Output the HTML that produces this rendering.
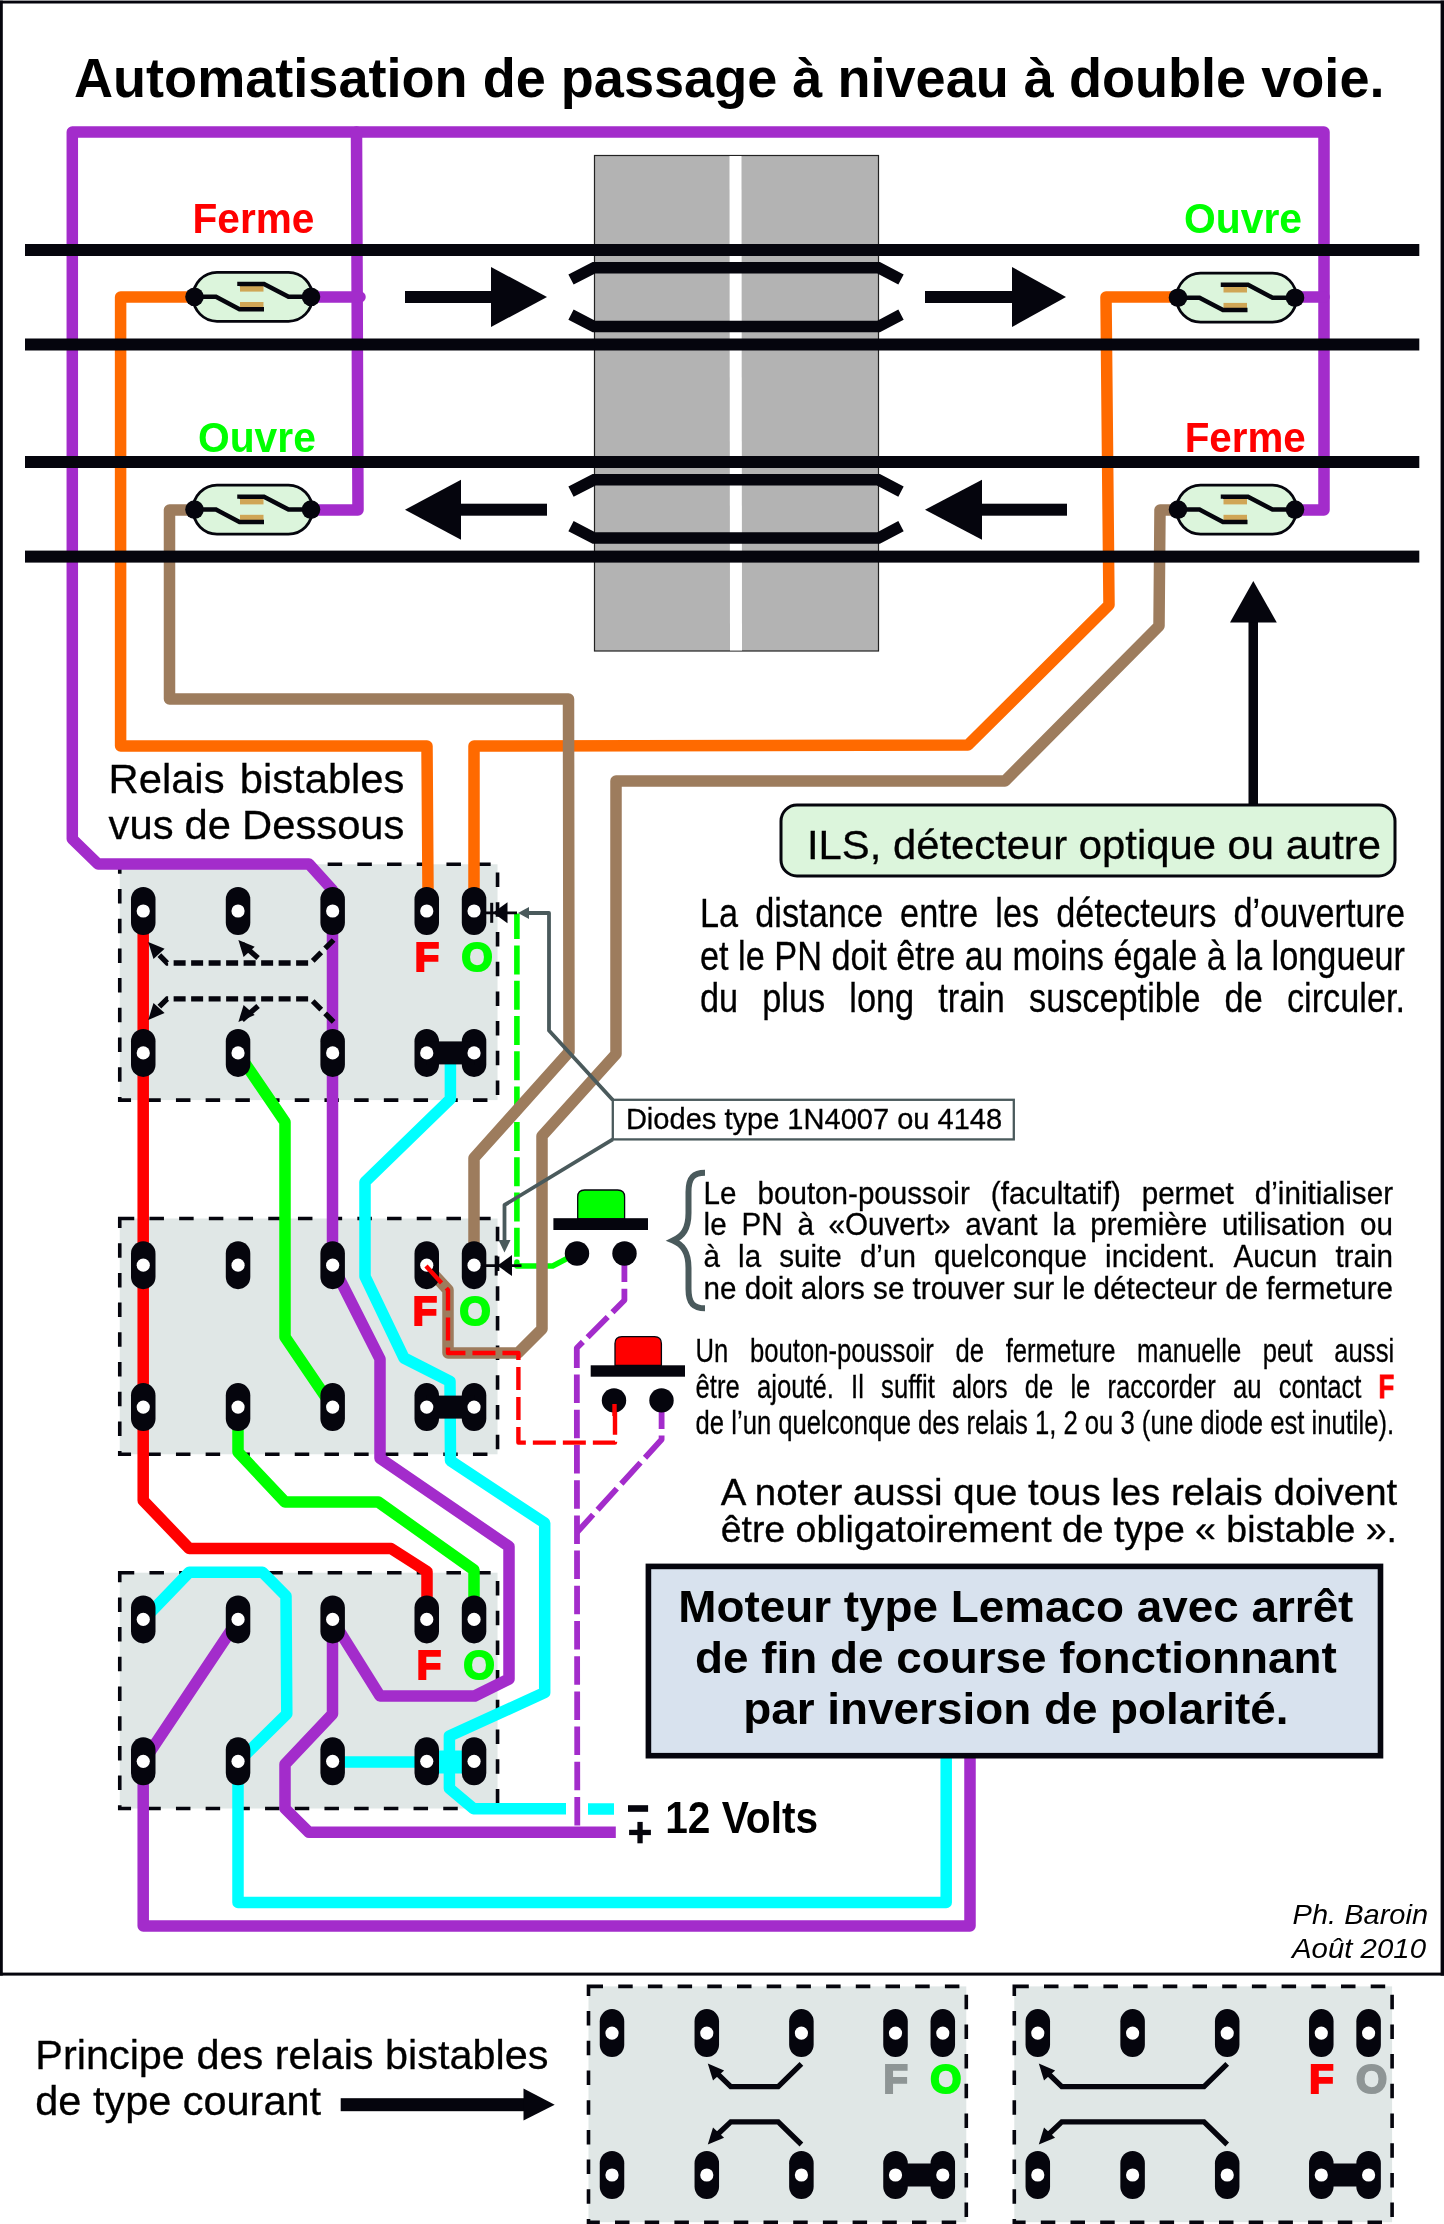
<!DOCTYPE html><html><head><meta charset="utf-8"><style>html,body{margin:0;padding:0;background:#fff;}svg{display:block;font-family:"Liberation Sans",sans-serif;will-change:transform;}</style></head><body>
<svg width="1444" height="2224" viewBox="0 0 1444 2224">
<rect x="0" y="0" width="1444" height="2224" fill="#fff"/>
<rect x="0" y="0.6" width="1444" height="2.9" fill="#05050d"/>
<rect x="0" y="0.6" width="2.8" height="1975" fill="#05050d"/>
<rect x="1440.6" y="0.6" width="3.4" height="1975" fill="#05050d"/>
<rect x="0" y="1972.6" width="1444" height="3" fill="#05050d"/>
<text x="74.0" y="97.4" font-size="55" font-weight="bold" fill="#000" textLength="1310.5" lengthAdjust="spacingAndGlyphs">Automatisation de passage à niveau à double voie.</text>
<rect x="594.5" y="155.5" width="284" height="495.5" fill="#b3b3b3" stroke="#222" stroke-width="1.2"/>
<polygon points="729.5,156 741.5,156 742,650.5 730,650.5" fill="#fff"/>
<rect x="119.75" y="864.3" width="377.8" height="235.8" fill="#e0e7e6" stroke="#05050d" stroke-width="3.6" stroke-dasharray="14.5 15.2"/>
<rect x="119.75" y="1218.5" width="377.8" height="235.8" fill="#e0e7e6" stroke="#05050d" stroke-width="3.6" stroke-dasharray="14.5 15.2"/>
<rect x="119.75" y="1572.7" width="377.8" height="235.8" fill="#e0e7e6" stroke="#05050d" stroke-width="3.6" stroke-dasharray="14.5 15.2"/>
<polyline points="332.5,890.0 309.0,864.0 98.0,864.0 72.3,839.0 72.3,132.0 1324.0,132.0 1324.0,510.0 1300.0,510.0" fill="none" stroke="#a32ccb" stroke-width="11.5" stroke-linejoin="round" stroke-linecap="round" />
<polyline points="356.5,132.0 358.0,510.0 315.0,510.0" fill="none" stroke="#a32ccb" stroke-width="11.5" stroke-linejoin="round" stroke-linecap="round" />
<polyline points="315.0,297.0 360.0,297.0" fill="none" stroke="#a32ccb" stroke-width="11.5" stroke-linejoin="round" stroke-linecap="round" />
<polyline points="1300.0,297.0 1324.0,297.0" fill="none" stroke="#a32ccb" stroke-width="11.5" stroke-linejoin="round" stroke-linecap="round" />
<polyline points="516.9,913.5 516.9,1266.0" fill="none" stroke="#00ff00" stroke-width="5.6" stroke-dasharray="25.6 6.3 29 6.3 29 6.3 29 6.3 29 6.3 29 6.3 29 6.3 29 6.3 29 6.3 29 6.3 29 6.3" />
<polyline points="516.9,1262.0 516.9,1266.0 552.7,1266.0 576.6,1253.5" fill="none" stroke="#00ff00" stroke-width="5.4" stroke-linejoin="round" stroke-linecap="round" />
<polyline points="190.0,297.0 120.6,297.0 120.6,746.0 427.0,746.0 428.0,890.0" fill="none" stroke="#ff6a00" stroke-width="11.5" stroke-linejoin="round" stroke-linecap="round" />
<polyline points="1175.0,297.0 1106.0,297.0 1109.0,605.0 968.0,745.0 474.0,746.0 474.0,890.0" fill="none" stroke="#ff6a00" stroke-width="11.5" stroke-linejoin="round" stroke-linecap="round" />
<polyline points="190.0,510.0 169.5,510.0 169.5,699.0 568.5,699.0 569.0,1052.0 474.0,1158.0 474.0,1245.0" fill="none" stroke="#9d7c5d" stroke-width="11.5" stroke-linejoin="round" stroke-linecap="round" />
<polyline points="1175.0,510.0 1160.0,510.0 1159.0,626.0 1005.0,781.0 616.0,781.0 616.0,1054.0 542.0,1136.0 542.0,1329.0 518.0,1353.0 448.0,1353.0 448.0,1290.0 426.0,1266.0" fill="none" stroke="#9d7c5d" stroke-width="11.5" stroke-linejoin="round" stroke-linecap="round" />
<rect x="25" y="244" width="1394.3" height="12" fill="#05050d"/>
<rect x="25" y="338.5" width="1394.3" height="12" fill="#05050d"/>
<rect x="25" y="456" width="1394.3" height="12" fill="#05050d"/>
<rect x="25" y="550.6" width="1394.3" height="12" fill="#05050d"/>
<polyline points="571.0,279.5 594.0,267.7 878.5,267.7 901.0,279.5" fill="none" stroke="#05050d" stroke-width="11.5" stroke-linejoin="miter" stroke-linecap="butt" />
<polyline points="571.0,314.7 594.0,326.5 878.5,326.5 901.0,314.7" fill="none" stroke="#05050d" stroke-width="11.5" stroke-linejoin="miter" stroke-linecap="butt" />
<polyline points="571.0,491.6 594.0,479.8 878.5,479.8 901.0,491.6" fill="none" stroke="#05050d" stroke-width="11.5" stroke-linejoin="miter" stroke-linecap="butt" />
<polyline points="571.0,526.2 594.0,538.0 878.5,538.0 901.0,526.2" fill="none" stroke="#05050d" stroke-width="11.5" stroke-linejoin="miter" stroke-linecap="butt" />
<rect x="405" y="291" width="87" height="12" fill="#05050d"/>
<polygon points="491.0,267.0 547.0,297.0 491.0,327.0" fill="#05050d"/>
<rect x="925" y="291" width="88" height="12" fill="#05050d"/>
<polygon points="1012.0,267.0 1066.0,297.0 1012.0,327.0" fill="#05050d"/>
<rect x="460" y="503.7" width="87" height="12" fill="#05050d"/>
<polygon points="461.0,479.7 405.0,509.7 461.0,539.7" fill="#05050d"/>
<rect x="981" y="503.7" width="86" height="12" fill="#05050d"/>
<polygon points="982.0,479.7 925.0,509.7 982.0,539.7" fill="#05050d"/>
<rect x="193.0" y="272.3" width="119.5" height="49" rx="24" ry="24.5" fill="#dcf5dc" stroke="#05050d" stroke-width="2.8"/>
<rect x="240.0" y="302.0" width="23.5" height="5.6" fill="#d0a656"/>
<rect x="240.0" y="286.0" width="23.5" height="5.6" fill="#d0a656"/>
<polyline points="194.5,296.8 216.0,296.8 239.5,309.2 264.0,309.2" fill="none" stroke="#05050d" stroke-width="4.5"/>
<polyline points="311.0,296.8 288.5,296.8 264.0,283.9 239.5,283.9 239.5,286.0" fill="none" stroke="#05050d" stroke-width="4.5"/>
<circle cx="194.5" cy="296.8" r="9.3" fill="#05050d"/>
<circle cx="311" cy="296.8" r="9.3" fill="#05050d"/>
<rect x="193.0" y="485.1" width="119.5" height="49" rx="24" ry="24.5" fill="#dcf5dc" stroke="#05050d" stroke-width="2.8"/>
<rect x="240.0" y="514.8" width="23.5" height="5.6" fill="#d0a656"/>
<rect x="240.0" y="498.8" width="23.5" height="5.6" fill="#d0a656"/>
<polyline points="194.5,509.6 216.0,509.6 239.5,522.0 264.0,522.0" fill="none" stroke="#05050d" stroke-width="4.5"/>
<polyline points="311.0,509.6 288.5,509.6 264.0,496.7 239.5,496.7 239.5,498.8" fill="none" stroke="#05050d" stroke-width="4.5"/>
<circle cx="194.5" cy="509.6" r="9.3" fill="#05050d"/>
<circle cx="311" cy="509.6" r="9.3" fill="#05050d"/>
<rect x="1176.5" y="273.2" width="120.0" height="49" rx="24" ry="24.5" fill="#dcf5dc" stroke="#05050d" stroke-width="2.8"/>
<rect x="1223.5" y="302.9" width="23.5" height="5.6" fill="#d0a656"/>
<rect x="1223.5" y="286.9" width="23.5" height="5.6" fill="#d0a656"/>
<polyline points="1178.0,297.7 1199.5,297.7 1223.0,310.1 1247.5,310.1" fill="none" stroke="#05050d" stroke-width="4.5"/>
<polyline points="1295.0,297.7 1272.5,297.7 1248.0,284.8 1223.0,284.8 1223.0,286.9" fill="none" stroke="#05050d" stroke-width="4.5"/>
<circle cx="1178" cy="297.7" r="9.3" fill="#05050d"/>
<circle cx="1295" cy="297.7" r="9.3" fill="#05050d"/>
<rect x="1176.5" y="485.1" width="120.0" height="49" rx="24" ry="24.5" fill="#dcf5dc" stroke="#05050d" stroke-width="2.8"/>
<rect x="1223.5" y="514.8" width="23.5" height="5.6" fill="#d0a656"/>
<rect x="1223.5" y="498.8" width="23.5" height="5.6" fill="#d0a656"/>
<polyline points="1178.0,509.6 1199.5,509.6 1223.0,522.0 1247.5,522.0" fill="none" stroke="#05050d" stroke-width="4.5"/>
<polyline points="1295.0,509.6 1272.5,509.6 1248.0,496.7 1223.0,496.7 1223.0,498.8" fill="none" stroke="#05050d" stroke-width="4.5"/>
<circle cx="1178" cy="509.6" r="9.3" fill="#05050d"/>
<circle cx="1295" cy="509.6" r="9.3" fill="#05050d"/>
<text x="192.5" y="232.6" font-size="43" font-weight="bold" fill="#ff0000" textLength="121.9" lengthAdjust="spacingAndGlyphs">Ferme</text>
<text x="198.0" y="451.5" font-size="43" font-weight="bold" fill="#00ff00" textLength="117.8" lengthAdjust="spacingAndGlyphs">Ouvre</text>
<text x="1184.0" y="232.6" font-size="43" font-weight="bold" fill="#00ff00" textLength="118.0" lengthAdjust="spacingAndGlyphs">Ouvre</text>
<text x="1184.7" y="451.5" font-size="43" font-weight="bold" fill="#ff0000" textLength="121.1" lengthAdjust="spacingAndGlyphs">Ferme</text>
<rect x="1248.5" y="620" width="9.5" height="184" fill="#05050d"/>
<polygon points="1230,622.4 1253.3,581 1276.8,622.4" fill="#05050d"/>
<rect x="781" y="805" width="614" height="71" rx="16" ry="16" fill="#dcf5dc" stroke="#05050d" stroke-width="3"/>
<text x="807.0" y="859.0" font-size="41.5"  fill="#000" stroke="#000" stroke-width="0.3" textLength="574.0" lengthAdjust="spacingAndGlyphs">ILS, détecteur optique ou autre</text>
<text x="108.6" y="792.7" font-size="40.5"  fill="#000" stroke="#000" stroke-width="0.3" textLength="115.9" lengthAdjust="spacingAndGlyphs">Relais</text>
<text x="239.8" y="792.7" font-size="40.5"  fill="#000" stroke="#000" stroke-width="0.3" textLength="164.6" lengthAdjust="spacingAndGlyphs">bistables</text>
<text x="108.6" y="839.2" font-size="40.5"  fill="#000" stroke="#000" stroke-width="0.3" textLength="64.9" lengthAdjust="spacingAndGlyphs">vus</text>
<text x="184.6" y="839.2" font-size="40.5"  fill="#000" stroke="#000" stroke-width="0.3" textLength="46.4" lengthAdjust="spacingAndGlyphs">de</text>
<text x="242.1" y="839.2" font-size="40.5"  fill="#000" stroke="#000" stroke-width="0.3" textLength="162.3" lengthAdjust="spacingAndGlyphs">Dessous</text>
<g stroke="#000" stroke-width="0.45">
<text x="700.0" y="927.1" font-size="41.5"  fill="#000" stroke="#000" stroke-width="0.3" textLength="38.1" lengthAdjust="spacingAndGlyphs">La</text>
<text x="755.3" y="927.1" font-size="41.5"  fill="#000" stroke="#000" stroke-width="0.3" textLength="127.7" lengthAdjust="spacingAndGlyphs">distance</text>
<text x="900.1" y="927.1" font-size="41.5"  fill="#000" stroke="#000" stroke-width="0.3" textLength="78.1" lengthAdjust="spacingAndGlyphs">entre</text>
<text x="995.3" y="927.1" font-size="41.5"  fill="#000" stroke="#000" stroke-width="0.3" textLength="43.8" lengthAdjust="spacingAndGlyphs">les</text>
<text x="1056.3" y="927.1" font-size="41.5"  fill="#000" stroke="#000" stroke-width="0.3" textLength="160.1" lengthAdjust="spacingAndGlyphs">détecteurs</text>
<text x="1233.5" y="927.1" font-size="41.5"  fill="#000" stroke="#000" stroke-width="0.3" textLength="171.5" lengthAdjust="spacingAndGlyphs">d’ouverture</text>
<text x="700.0" y="969.8" font-size="41.5"  fill="#000" stroke="#000" stroke-width="0.3" textLength="705.0" lengthAdjust="spacingAndGlyphs">et le PN doit être au moins égale à la longueur</text>
<text x="700.0" y="1011.6" font-size="41.5"  fill="#000" stroke="#000" stroke-width="0.3" textLength="38.1" lengthAdjust="spacingAndGlyphs">du</text>
<text x="762.3" y="1011.6" font-size="41.5"  fill="#000" stroke="#000" stroke-width="0.3" textLength="62.9" lengthAdjust="spacingAndGlyphs">plus</text>
<text x="849.3" y="1011.6" font-size="41.5"  fill="#000" stroke="#000" stroke-width="0.3" textLength="64.8" lengthAdjust="spacingAndGlyphs">long</text>
<text x="938.2" y="1011.6" font-size="41.5"  fill="#000" stroke="#000" stroke-width="0.3" textLength="66.7" lengthAdjust="spacingAndGlyphs">train</text>
<text x="1029.0" y="1011.6" font-size="41.5"  fill="#000" stroke="#000" stroke-width="0.3" textLength="171.5" lengthAdjust="spacingAndGlyphs">susceptible</text>
<text x="1224.6" y="1011.6" font-size="41.5"  fill="#000" stroke="#000" stroke-width="0.3" textLength="38.1" lengthAdjust="spacingAndGlyphs">de</text>
<text x="1286.9" y="1011.6" font-size="41.5"  fill="#000" stroke="#000" stroke-width="0.3" textLength="118.1" lengthAdjust="spacingAndGlyphs">circuler.</text>
</g>
<polyline points="143.2,911.0 143.2,1500.5 189.2,1548.5 391.0,1548.5 427.0,1571.5 427.0,1620.0" fill="none" stroke="#ff0000" stroke-width="11.5" stroke-linejoin="round" stroke-linecap="round" />
<polyline points="238.0,1053.0 285.0,1122.0 285.0,1337.0 332.5,1407.0" fill="none" stroke="#00ff00" stroke-width="11.5" stroke-linejoin="round" stroke-linecap="round" />
<polyline points="238.0,1407.0 238.0,1452.0 285.0,1502.0 378.3,1502.0 474.0,1570.0 474.0,1620.0" fill="none" stroke="#00ff00" stroke-width="11.5" stroke-linejoin="round" stroke-linecap="round" />
<polyline points="332.5,911.0 332.5,1265.0 380.0,1359.0 380.0,1458.3 509.0,1546.5 509.0,1679.0 474.7,1696.0 380.0,1696.0 332.5,1620.0" fill="none" stroke="#a32ccb" stroke-width="11.5" stroke-linejoin="round" stroke-linecap="round" />
<polyline points="450.4,1053.0 450.4,1099.0 365.0,1182.0 365.0,1276.5 404.0,1358.0 450.0,1381.3 450.5,1460.8 544.7,1523.0 544.7,1692.6 449.4,1736.0 449.4,1788.4 473.5,1808.7 566.0,1808.7" fill="none" stroke="#00ffff" stroke-width="11.5" stroke-linejoin="round" stroke-linecap="butt" />
<line x1="588" y1="1809" x2="614" y2="1809" stroke="#00ffff" stroke-width="11.5"/>
<polyline points="143.2,1620.0 189.2,1572.2 262.5,1572.2 286.0,1596.0 286.8,1714.0 238.0,1762.0" fill="none" stroke="#00ffff" stroke-width="11.5" stroke-linejoin="round" stroke-linecap="round" />
<polyline points="238.0,1620.0 143.2,1762.0 143.2,1926.0 970.0,1926.0 970.0,1757.0" fill="none" stroke="#a32ccb" stroke-width="11.5" stroke-linejoin="round" stroke-linecap="round" />
<polyline points="238.0,1762.0 238.0,1902.5 946.2,1902.5 946.2,1757.0" fill="none" stroke="#00ffff" stroke-width="11.5" stroke-linejoin="round" stroke-linecap="round" />
<polyline points="332.5,1620.0 332.5,1714.0 285.0,1764.3 285.0,1808.5 309.0,1832.3 615.8,1832.3" fill="none" stroke="#a32ccb" stroke-width="11.5" stroke-linejoin="round" stroke-linecap="butt" />
<polyline points="332.5,1762.0 449.0,1762.0" fill="none" stroke="#00ffff" stroke-width="11.5" stroke-linejoin="round" stroke-linecap="round" />
<rect x="426.8" y="1750.5" width="47.3" height="23" fill="#00ffff"/>
<polyline points="624.4,1253.5 624.4,1300.3 576.8,1348.0 577.3,1832.0" fill="none" stroke="#a32ccb" stroke-width="5.8" stroke-dasharray="28.5 6.7" stroke-linejoin="round"/>
<polyline points="661.6,1400.4 661.6,1439.5 577.3,1532.0" fill="none" stroke="#a32ccb" stroke-width="5.8" stroke-dasharray="28.5 6.7" stroke-linejoin="round"/>
<rect x="131.00" y="887.00" width="24.5" height="48" rx="12.25" ry="12.25" fill="#05050d"/>
<rect x="225.80" y="887.00" width="24.5" height="48" rx="12.25" ry="12.25" fill="#05050d"/>
<rect x="320.40" y="887.00" width="24.5" height="48" rx="12.25" ry="12.25" fill="#05050d"/>
<rect x="414.50" y="887.00" width="24.5" height="48" rx="12.25" ry="12.25" fill="#05050d"/>
<rect x="461.80" y="887.00" width="24.5" height="48" rx="12.25" ry="12.25" fill="#05050d"/>
<rect x="131.00" y="1028.90" width="24.5" height="48" rx="12.25" ry="12.25" fill="#05050d"/>
<rect x="225.80" y="1028.90" width="24.5" height="48" rx="12.25" ry="12.25" fill="#05050d"/>
<rect x="320.40" y="1028.90" width="24.5" height="48" rx="12.25" ry="12.25" fill="#05050d"/>
<rect x="414.50" y="1028.90" width="24.5" height="48" rx="12.25" ry="12.25" fill="#05050d"/>
<rect x="461.80" y="1028.90" width="24.5" height="48" rx="12.25" ry="12.25" fill="#05050d"/>
<rect x="426.75" y="1041.3999999999999" width="47.30000000000001" height="23" fill="#05050d"/>
<rect x="131.00" y="1241.20" width="24.5" height="48" rx="12.25" ry="12.25" fill="#05050d"/>
<rect x="225.80" y="1241.20" width="24.5" height="48" rx="12.25" ry="12.25" fill="#05050d"/>
<rect x="320.40" y="1241.20" width="24.5" height="48" rx="12.25" ry="12.25" fill="#05050d"/>
<rect x="414.50" y="1241.20" width="24.5" height="48" rx="12.25" ry="12.25" fill="#05050d"/>
<rect x="461.80" y="1241.20" width="24.5" height="48" rx="12.25" ry="12.25" fill="#05050d"/>
<rect x="131.00" y="1383.10" width="24.5" height="48" rx="12.25" ry="12.25" fill="#05050d"/>
<rect x="225.80" y="1383.10" width="24.5" height="48" rx="12.25" ry="12.25" fill="#05050d"/>
<rect x="320.40" y="1383.10" width="24.5" height="48" rx="12.25" ry="12.25" fill="#05050d"/>
<rect x="414.50" y="1383.10" width="24.5" height="48" rx="12.25" ry="12.25" fill="#05050d"/>
<rect x="461.80" y="1383.10" width="24.5" height="48" rx="12.25" ry="12.25" fill="#05050d"/>
<rect x="426.75" y="1395.6" width="47.30000000000001" height="23" fill="#05050d"/>
<rect x="131.00" y="1595.40" width="24.5" height="48" rx="12.25" ry="12.25" fill="#05050d"/>
<rect x="225.80" y="1595.40" width="24.5" height="48" rx="12.25" ry="12.25" fill="#05050d"/>
<rect x="320.40" y="1595.40" width="24.5" height="48" rx="12.25" ry="12.25" fill="#05050d"/>
<rect x="414.50" y="1595.40" width="24.5" height="48" rx="12.25" ry="12.25" fill="#05050d"/>
<rect x="461.80" y="1595.40" width="24.5" height="48" rx="12.25" ry="12.25" fill="#05050d"/>
<rect x="131.00" y="1737.30" width="24.5" height="48" rx="12.25" ry="12.25" fill="#05050d"/>
<rect x="225.80" y="1737.30" width="24.5" height="48" rx="12.25" ry="12.25" fill="#05050d"/>
<rect x="320.40" y="1737.30" width="24.5" height="48" rx="12.25" ry="12.25" fill="#05050d"/>
<rect x="414.50" y="1737.30" width="24.5" height="48" rx="12.25" ry="12.25" fill="#05050d"/>
<rect x="461.80" y="1737.30" width="24.5" height="48" rx="12.25" ry="12.25" fill="#05050d"/>
<polyline points="333.6,940.0 310.6,963.0 167.2,963.0 153.2,949.0" fill="none" stroke="#05050d" stroke-width="5.3" stroke-dasharray="12 5.5"/>
<polyline points="333.6,1021.9 310.6,998.9 167.2,998.9 153.2,1012.9" fill="none" stroke="#05050d" stroke-width="5.3" stroke-dasharray="12 5.5"/>
<polygon points="148.2,942.0 153.5,958.9 164.6,948.8" fill="#05050d"/>
<polygon points="148.2,1019.9 164.6,1013.1 153.5,1003.0" fill="#05050d"/>
<line x1="258.05" y1="958.0" x2="242.05" y2="944.0" stroke="#05050d" stroke-width="5.3"/>
<line x1="258.05" y1="1005.8999999999999" x2="242.05" y2="1019.8999999999999" stroke="#05050d" stroke-width="5.3"/>
<polygon points="238.4,940.0 243.6,956.9 254.7,946.8" fill="#05050d"/>
<polygon points="238.4,1021.9 254.7,1015.1 243.6,1005.0" fill="#05050d"/>
<circle cx="143.25" cy="911.00" r="6.6" fill="#fff"/>
<circle cx="238.05" cy="911.00" r="6.6" fill="#fff"/>
<circle cx="332.65" cy="911.00" r="6.6" fill="#fff"/>
<circle cx="426.75" cy="911.00" r="6.6" fill="#fff"/>
<circle cx="474.05" cy="911.00" r="6.6" fill="#fff"/>
<circle cx="143.25" cy="1052.90" r="6.6" fill="#fff"/>
<circle cx="238.05" cy="1052.90" r="6.6" fill="#fff"/>
<circle cx="332.65" cy="1052.90" r="6.6" fill="#fff"/>
<circle cx="426.75" cy="1052.90" r="6.6" fill="#fff"/>
<circle cx="474.05" cy="1052.90" r="6.6" fill="#fff"/>
<circle cx="143.25" cy="1265.20" r="6.6" fill="#fff"/>
<circle cx="238.05" cy="1265.20" r="6.6" fill="#fff"/>
<circle cx="332.65" cy="1265.20" r="6.6" fill="#fff"/>
<circle cx="426.75" cy="1265.20" r="6.6" fill="#fff"/>
<circle cx="474.05" cy="1265.20" r="6.6" fill="#fff"/>
<circle cx="143.25" cy="1407.10" r="6.6" fill="#fff"/>
<circle cx="238.05" cy="1407.10" r="6.6" fill="#fff"/>
<circle cx="332.65" cy="1407.10" r="6.6" fill="#fff"/>
<circle cx="426.75" cy="1407.10" r="6.6" fill="#fff"/>
<circle cx="474.05" cy="1407.10" r="6.6" fill="#fff"/>
<circle cx="143.25" cy="1619.40" r="6.6" fill="#fff"/>
<circle cx="238.05" cy="1619.40" r="6.6" fill="#fff"/>
<circle cx="332.65" cy="1619.40" r="6.6" fill="#fff"/>
<circle cx="426.75" cy="1619.40" r="6.6" fill="#fff"/>
<circle cx="474.05" cy="1619.40" r="6.6" fill="#fff"/>
<circle cx="143.25" cy="1761.30" r="6.6" fill="#fff"/>
<circle cx="238.05" cy="1761.30" r="6.6" fill="#fff"/>
<circle cx="332.65" cy="1761.30" r="6.6" fill="#fff"/>
<circle cx="426.75" cy="1761.30" r="6.6" fill="#fff"/>
<circle cx="474.05" cy="1761.30" r="6.6" fill="#fff"/>
<text x="414.8" y="971.0" font-size="40" font-weight="bold" fill="#ff0000" stroke="#ff0000" stroke-width="2.2" stroke-linejoin="miter">F</text>
<text x="461.4" y="971.0" font-size="40" font-weight="bold" fill="#00ff00" stroke="#00ff00" stroke-width="2.2">O</text>
<text x="412.8" y="1325.2" font-size="40" font-weight="bold" fill="#ff0000" stroke="#ff0000" stroke-width="2.2" stroke-linejoin="miter">F</text>
<text x="459.4" y="1325.2" font-size="40" font-weight="bold" fill="#00ff00" stroke="#00ff00" stroke-width="2.2">O</text>
<text x="416.8" y="1679.4" font-size="40" font-weight="bold" fill="#ff0000" stroke="#ff0000" stroke-width="2.2" stroke-linejoin="miter">F</text>
<text x="463.4" y="1679.4" font-size="40" font-weight="bold" fill="#00ff00" stroke="#00ff00" stroke-width="2.2">O</text>
<polyline points="426.0,1266.0 448.0,1290.0 448.0,1353.0 518.4,1353.0 518.4,1442.6 615.0,1442.6 615.0,1404.0" fill="none" stroke="#ff0000" stroke-width="4.4" stroke-dasharray="23 7" stroke-linejoin="round"/>
<line x1="484" y1="912.8" x2="517" y2="912.8" stroke="#05050d" stroke-width="2.8"/>
<rect x="490.2" y="902.8" width="3" height="20" fill="#05050d"/>
<polygon points="493.0,912.8 507.5,902.3 507.5,923.3" fill="#05050d"/>
<line x1="484" y1="1265.6" x2="521.5" y2="1265.6" stroke="#05050d" stroke-width="2.8"/>
<rect x="494.7" y="1255.6" width="3" height="20" fill="#05050d"/>
<polygon points="497.5,1265.6 512.0,1255.1 512.0,1276.1" fill="#05050d"/>
<polyline points="525.0,913.0 549.0,913.0 549.0,1030.5 612.8,1100.0" fill="none" stroke="#4a5a5c" stroke-width="3.8" stroke-linejoin="round"/>
<polygon points="518,913 529,907 529,919" fill="#4a5a5c"/>
<rect x="612.8" y="1099.8" width="401" height="39.6" fill="#fff" stroke="#4a5a5c" stroke-width="2.3"/>
<polyline points="612.8,1139.4 504.5,1205.0 504.5,1244.0" fill="none" stroke="#4a5a5c" stroke-width="3.8" stroke-linejoin="round"/>
<polygon points="498.5,1240 510.5,1240 504.5,1252.6" fill="#4a5a5c"/>
<text x="625.9" y="1129.4" font-size="28.8"  fill="#000" stroke="#000" stroke-width="0.3" textLength="376.3" lengthAdjust="spacingAndGlyphs">Diodes type 1N4007 ou 4148</text>
<path d="M577.7,1218.8 V1197 Q577.7,1190 584.7,1190 H617.6 Q624.6,1190 624.6,1197 V1218.8 Z" fill="#00ff00" stroke="#05050d" stroke-width="1.3"/>
<rect x="553.4" y="1218.2" width="94.6" height="11.8" fill="#05050d"/>
<circle cx="577" cy="1253.5" r="12.2" fill="#05050d"/><circle cx="624.5" cy="1253.5" r="12.2" fill="#05050d"/>
<path d="M615,1365.3 V1343.6 Q615,1336.6 622,1336.6 H654.4 Q661.4,1336.6 661.4,1343.6 V1365.3 Z" fill="#ff0000" stroke="#05050d" stroke-width="1.3"/>
<rect x="590.7" y="1365.3" width="94.3" height="11.4" fill="#05050d"/>
<circle cx="614" cy="1400.4" r="12.2" fill="#05050d"/><circle cx="661.5" cy="1400.4" r="12.2" fill="#05050d"/>
<line x1="614.5" y1="1404" x2="614.5" y2="1416" stroke="#ff0000" stroke-width="4.4"/>
<path d="M705,1172.7 C694,1172.7 688.5,1177 688.5,1192 L688.5,1213 C688.5,1229 683,1236 673,1240.6 C683,1245 688.5,1252 688.5,1268 L688.5,1289 C688.5,1304 694,1308.3 705,1308.3" fill="none" stroke="#4a5a5c" stroke-width="6" stroke-linejoin="miter" stroke-miterlimit="12"/>
<g stroke="#000" stroke-width="0.4">
<text x="703.6" y="1203.7" font-size="32"  fill="#000" stroke="#000" stroke-width="0.3" textLength="32.9" lengthAdjust="spacingAndGlyphs">Le</text>
<text x="757.5" y="1203.7" font-size="32"  fill="#000" stroke="#000" stroke-width="0.3" textLength="212.3" lengthAdjust="spacingAndGlyphs">bouton-poussoir</text>
<text x="990.8" y="1203.7" font-size="32"  fill="#000" stroke="#000" stroke-width="0.3" textLength="130.0" lengthAdjust="spacingAndGlyphs">(facultatif)</text>
<text x="1141.7" y="1203.7" font-size="32"  fill="#000" stroke="#000" stroke-width="0.3" textLength="92.1" lengthAdjust="spacingAndGlyphs">permet</text>
<text x="1254.8" y="1203.7" font-size="32"  fill="#000" stroke="#000" stroke-width="0.3" textLength="138.2" lengthAdjust="spacingAndGlyphs">d’initialiser</text>
<text x="703.6" y="1235.4" font-size="32"  fill="#000" stroke="#000" stroke-width="0.3" textLength="23.0" lengthAdjust="spacingAndGlyphs">le</text>
<text x="741.4" y="1235.4" font-size="32"  fill="#000" stroke="#000" stroke-width="0.3" textLength="41.1" lengthAdjust="spacingAndGlyphs">PN</text>
<text x="797.4" y="1235.4" font-size="32"  fill="#000" stroke="#000" stroke-width="0.3" textLength="16.5" lengthAdjust="spacingAndGlyphs">à</text>
<text x="828.6" y="1235.4" font-size="32"  fill="#000" stroke="#000" stroke-width="0.3" textLength="121.8" lengthAdjust="spacingAndGlyphs">«Ouvert»</text>
<text x="965.2" y="1235.4" font-size="32"  fill="#000" stroke="#000" stroke-width="0.3" textLength="72.4" lengthAdjust="spacingAndGlyphs">avant</text>
<text x="1052.4" y="1235.4" font-size="32"  fill="#000" stroke="#000" stroke-width="0.3" textLength="23.0" lengthAdjust="spacingAndGlyphs">la</text>
<text x="1090.3" y="1235.4" font-size="32"  fill="#000" stroke="#000" stroke-width="0.3" textLength="116.8" lengthAdjust="spacingAndGlyphs">première</text>
<text x="1221.9" y="1235.4" font-size="32"  fill="#000" stroke="#000" stroke-width="0.3" textLength="123.4" lengthAdjust="spacingAndGlyphs">utilisation</text>
<text x="1360.1" y="1235.4" font-size="32"  fill="#000" stroke="#000" stroke-width="0.3" textLength="32.9" lengthAdjust="spacingAndGlyphs">ou</text>
<text x="703.6" y="1267.2" font-size="32"  fill="#000" stroke="#000" stroke-width="0.3" textLength="16.5" lengthAdjust="spacingAndGlyphs">à</text>
<text x="738.1" y="1267.2" font-size="32"  fill="#000" stroke="#000" stroke-width="0.3" textLength="23.0" lengthAdjust="spacingAndGlyphs">la</text>
<text x="779.3" y="1267.2" font-size="32"  fill="#000" stroke="#000" stroke-width="0.3" textLength="62.5" lengthAdjust="spacingAndGlyphs">suite</text>
<text x="859.9" y="1267.2" font-size="32"  fill="#000" stroke="#000" stroke-width="0.3" textLength="56.0" lengthAdjust="spacingAndGlyphs">d’un</text>
<text x="933.9" y="1267.2" font-size="32"  fill="#000" stroke="#000" stroke-width="0.3" textLength="153.1" lengthAdjust="spacingAndGlyphs">quelconque</text>
<text x="1105.1" y="1267.2" font-size="32"  fill="#000" stroke="#000" stroke-width="0.3" textLength="110.3" lengthAdjust="spacingAndGlyphs">incident.</text>
<text x="1233.4" y="1267.2" font-size="32"  fill="#000" stroke="#000" stroke-width="0.3" textLength="83.9" lengthAdjust="spacingAndGlyphs">Aucun</text>
<text x="1335.4" y="1267.2" font-size="32"  fill="#000" stroke="#000" stroke-width="0.3" textLength="57.6" lengthAdjust="spacingAndGlyphs">train</text>
<text x="703.6" y="1298.9" font-size="32"  fill="#000" stroke="#000" stroke-width="0.3" textLength="689.4" lengthAdjust="spacingAndGlyphs">ne doit alors se trouver sur le détecteur de fermeture</text>
</g>
<g stroke="#000" stroke-width="0.4">
<text x="695.6" y="1362.0" font-size="33"  fill="#000" stroke="#000" stroke-width="0.3" textLength="32.8" lengthAdjust="spacingAndGlyphs">Un</text>
<text x="750.0" y="1362.0" font-size="33"  fill="#000" stroke="#000" stroke-width="0.3" textLength="183.9" lengthAdjust="spacingAndGlyphs">bouton-poussoir</text>
<text x="955.6" y="1362.0" font-size="33"  fill="#000" stroke="#000" stroke-width="0.3" textLength="28.5" lengthAdjust="spacingAndGlyphs">de</text>
<text x="1005.7" y="1362.0" font-size="33"  fill="#000" stroke="#000" stroke-width="0.3" textLength="109.7" lengthAdjust="spacingAndGlyphs">fermeture</text>
<text x="1137.1" y="1362.0" font-size="33"  fill="#000" stroke="#000" stroke-width="0.3" textLength="104.1" lengthAdjust="spacingAndGlyphs">manuelle</text>
<text x="1262.8" y="1362.0" font-size="33"  fill="#000" stroke="#000" stroke-width="0.3" textLength="49.9" lengthAdjust="spacingAndGlyphs">peut</text>
<text x="1334.3" y="1362.0" font-size="33"  fill="#000" stroke="#000" stroke-width="0.3" textLength="59.9" lengthAdjust="spacingAndGlyphs">aussi</text>
<text x="695.6" y="1398.3" font-size="33"  fill="#000" stroke="#000" stroke-width="0.3" textLength="44.2" lengthAdjust="spacingAndGlyphs">être</text>
<text x="757.0" y="1398.3" font-size="33"  fill="#000" stroke="#000" stroke-width="0.3" textLength="77.0" lengthAdjust="spacingAndGlyphs">ajouté.</text>
<text x="851.1" y="1398.3" font-size="33"  fill="#000" stroke="#000" stroke-width="0.3" textLength="12.8" lengthAdjust="spacingAndGlyphs">Il</text>
<text x="881.1" y="1398.3" font-size="33"  fill="#000" stroke="#000" stroke-width="0.3" textLength="53.7" lengthAdjust="spacingAndGlyphs">suffit</text>
<text x="952.0" y="1398.3" font-size="33"  fill="#000" stroke="#000" stroke-width="0.3" textLength="55.6" lengthAdjust="spacingAndGlyphs">alors</text>
<text x="1024.7" y="1398.3" font-size="33"  fill="#000" stroke="#000" stroke-width="0.3" textLength="28.5" lengthAdjust="spacingAndGlyphs">de</text>
<text x="1070.4" y="1398.3" font-size="33"  fill="#000" stroke="#000" stroke-width="0.3" textLength="20.0" lengthAdjust="spacingAndGlyphs">le</text>
<text x="1107.5" y="1398.3" font-size="33"  fill="#000" stroke="#000" stroke-width="0.3" textLength="108.3" lengthAdjust="spacingAndGlyphs">raccorder</text>
<text x="1233.0" y="1398.3" font-size="33"  fill="#000" stroke="#000" stroke-width="0.3" textLength="28.5" lengthAdjust="spacingAndGlyphs">au</text>
<text x="1278.7" y="1398.3" font-size="33"  fill="#000" stroke="#000" stroke-width="0.3" textLength="82.7" lengthAdjust="spacingAndGlyphs">contact</text>
<text x="1378.5" y="1398.3" font-size="33" font-weight="bold" fill="#ff0000" stroke="#ff0000" stroke-width="1" textLength="15.7" lengthAdjust="spacingAndGlyphs">F</text>
<text x="695.6" y="1433.5" font-size="33"  fill="#000" stroke="#000" stroke-width="0.3" textLength="698.6" lengthAdjust="spacingAndGlyphs">de l’un quelconque des relais 1, 2 ou 3 (une diode est inutile).</text>
</g>
<text x="720.7" y="1504.7" font-size="36"  fill="#000" stroke="#000" stroke-width="0.3" textLength="676.5" lengthAdjust="spacingAndGlyphs">A noter aussi que tous les relais doivent</text>
<text x="720.7" y="1541.5" font-size="36"  fill="#000" stroke="#000" stroke-width="0.3" textLength="676.3" lengthAdjust="spacingAndGlyphs">être obligatoirement de type « bistable ».</text>
<rect x="648.4" y="1566.4" width="732.1" height="189.3" fill="#d8e2ee" stroke="#05050d" stroke-width="5.6"/>
<text x="678.3" y="1621.8" font-size="44.5" font-weight="bold" fill="#000" textLength="675.1" lengthAdjust="spacingAndGlyphs">Moteur type Lemaco avec arrêt</text>
<text x="695.0" y="1672.6" font-size="44.5" font-weight="bold" fill="#000" textLength="641.7" lengthAdjust="spacingAndGlyphs">de fin de course fonctionnant</text>
<text x="743.3" y="1724.3" font-size="44.5" font-weight="bold" fill="#000" textLength="545.1" lengthAdjust="spacingAndGlyphs">par inversion de polarité.</text>
<rect x="628" y="1805.2" width="20.1" height="6.6" fill="#05050d"/>
<rect x="637.4" y="1821.9" width="5.3" height="21.4" fill="#05050d"/>
<rect x="629.1" y="1829.8" width="21.8" height="5.3" fill="#05050d"/>
<text x="665.2" y="1833.0" font-size="44" font-weight="bold" fill="#000" textLength="152.9" lengthAdjust="spacingAndGlyphs">12 Volts</text>
<text x="1292.6" y="1923.9" font-size="28" font-style="italic" fill="#000" textLength="135.5" lengthAdjust="spacingAndGlyphs">Ph. Baroin</text>
<text x="1292.0" y="1957.7" font-size="28" font-style="italic" fill="#000" textLength="134.0" lengthAdjust="spacingAndGlyphs">Août 2010</text>
<text x="35.3" y="2068.9" font-size="40"  fill="#000" stroke="#000" stroke-width="0.3" textLength="513.2" lengthAdjust="spacingAndGlyphs">Principe des relais bistables</text>
<text x="35.3" y="2115.4" font-size="40"  fill="#000" stroke="#000" stroke-width="0.3" textLength="285.7" lengthAdjust="spacingAndGlyphs">de type courant</text>
<rect x="340.7" y="2098.2" width="184" height="13" fill="#05050d"/>
<polygon points="523.5,2088.4 554.7,2104.7 523.5,2120.6" fill="#05050d"/>
<rect x="588.5" y="1986.4" width="377.8" height="235.8" fill="#e0e7e6" stroke="#05050d" stroke-width="3.6" stroke-dasharray="14.5 15.2"/>
<rect x="599.75" y="2009.10" width="24.5" height="48" rx="12.25" ry="12.25" fill="#05050d"/>
<rect x="694.55" y="2009.10" width="24.5" height="48" rx="12.25" ry="12.25" fill="#05050d"/>
<rect x="789.15" y="2009.10" width="24.5" height="48" rx="12.25" ry="12.25" fill="#05050d"/>
<rect x="883.25" y="2009.10" width="24.5" height="48" rx="12.25" ry="12.25" fill="#05050d"/>
<rect x="930.55" y="2009.10" width="24.5" height="48" rx="12.25" ry="12.25" fill="#05050d"/>
<rect x="599.75" y="2151.00" width="24.5" height="48" rx="12.25" ry="12.25" fill="#05050d"/>
<rect x="694.55" y="2151.00" width="24.5" height="48" rx="12.25" ry="12.25" fill="#05050d"/>
<rect x="789.15" y="2151.00" width="24.5" height="48" rx="12.25" ry="12.25" fill="#05050d"/>
<rect x="883.25" y="2151.00" width="24.5" height="48" rx="12.25" ry="12.25" fill="#05050d"/>
<rect x="930.55" y="2151.00" width="24.5" height="48" rx="12.25" ry="12.25" fill="#05050d"/>
<rect x="895.5" y="2163.5" width="47.30000000000001" height="23" fill="#05050d"/>
<polyline points="801.4,2063.8 778.2,2086.7 730.8,2086.7 714.8,2071.1" fill="none" stroke="#05050d" stroke-width="5.3"/>
<polyline points="801.4,2144.5 778.2,2121.9 730.8,2121.9 714.8,2137.0" fill="none" stroke="#05050d" stroke-width="5.3"/>
<polygon points="707.8,2063.6 713.0,2080.5 724.1,2070.4" fill="#05050d"/>
<polygon points="707.8,2144.5 724.1,2137.7 713.0,2127.6" fill="#05050d"/>
<circle cx="612.00" cy="2033.10" r="6.6" fill="#fff"/>
<circle cx="706.80" cy="2033.10" r="6.6" fill="#fff"/>
<circle cx="801.40" cy="2033.10" r="6.6" fill="#fff"/>
<circle cx="895.50" cy="2033.10" r="6.6" fill="#fff"/>
<circle cx="942.80" cy="2033.10" r="6.6" fill="#fff"/>
<circle cx="612.00" cy="2175.00" r="6.6" fill="#fff"/>
<circle cx="706.80" cy="2175.00" r="6.6" fill="#fff"/>
<circle cx="801.40" cy="2175.00" r="6.6" fill="#fff"/>
<circle cx="895.50" cy="2175.00" r="6.6" fill="#fff"/>
<circle cx="942.80" cy="2175.00" r="6.6" fill="#fff"/>
<text x="883.5" y="2093.1" font-size="40" font-weight="bold" fill="#8e9595" stroke="#8e9595" stroke-width="2.2" stroke-linejoin="miter">F</text>
<text x="930.2" y="2093.1" font-size="40" font-weight="bold" fill="#00ff00" stroke="#00ff00" stroke-width="2.2">O</text>
<rect x="1014.3" y="1986.4" width="377.8" height="235.8" fill="#e0e7e6" stroke="#05050d" stroke-width="3.6" stroke-dasharray="14.5 15.2"/>
<rect x="1025.55" y="2009.10" width="24.5" height="48" rx="12.25" ry="12.25" fill="#05050d"/>
<rect x="1120.35" y="2009.10" width="24.5" height="48" rx="12.25" ry="12.25" fill="#05050d"/>
<rect x="1214.95" y="2009.10" width="24.5" height="48" rx="12.25" ry="12.25" fill="#05050d"/>
<rect x="1309.05" y="2009.10" width="24.5" height="48" rx="12.25" ry="12.25" fill="#05050d"/>
<rect x="1356.35" y="2009.10" width="24.5" height="48" rx="12.25" ry="12.25" fill="#05050d"/>
<rect x="1025.55" y="2151.00" width="24.5" height="48" rx="12.25" ry="12.25" fill="#05050d"/>
<rect x="1120.35" y="2151.00" width="24.5" height="48" rx="12.25" ry="12.25" fill="#05050d"/>
<rect x="1214.95" y="2151.00" width="24.5" height="48" rx="12.25" ry="12.25" fill="#05050d"/>
<rect x="1309.05" y="2151.00" width="24.5" height="48" rx="12.25" ry="12.25" fill="#05050d"/>
<rect x="1356.35" y="2151.00" width="24.5" height="48" rx="12.25" ry="12.25" fill="#05050d"/>
<rect x="1321.3" y="2163.5" width="47.30000000000001" height="23" fill="#05050d"/>
<polyline points="1227.2,2063.8 1204.0,2086.7 1061.8,2086.7 1045.8,2071.1" fill="none" stroke="#05050d" stroke-width="5.3"/>
<polyline points="1227.2,2144.5 1204.0,2121.9 1061.8,2121.9 1045.8,2137.0" fill="none" stroke="#05050d" stroke-width="5.3"/>
<polygon points="1038.8,2063.6 1044.0,2080.5 1055.1,2070.4" fill="#05050d"/>
<polygon points="1038.8,2144.5 1055.1,2137.7 1044.0,2127.6" fill="#05050d"/>
<circle cx="1037.80" cy="2033.10" r="6.6" fill="#fff"/>
<circle cx="1132.60" cy="2033.10" r="6.6" fill="#fff"/>
<circle cx="1227.20" cy="2033.10" r="6.6" fill="#fff"/>
<circle cx="1321.30" cy="2033.10" r="6.6" fill="#fff"/>
<circle cx="1368.60" cy="2033.10" r="6.6" fill="#fff"/>
<circle cx="1037.80" cy="2175.00" r="6.6" fill="#fff"/>
<circle cx="1132.60" cy="2175.00" r="6.6" fill="#fff"/>
<circle cx="1227.20" cy="2175.00" r="6.6" fill="#fff"/>
<circle cx="1321.30" cy="2175.00" r="6.6" fill="#fff"/>
<circle cx="1368.60" cy="2175.00" r="6.6" fill="#fff"/>
<text x="1309.3" y="2093.1" font-size="40" font-weight="bold" fill="#ff0000" stroke="#ff0000" stroke-width="2.2" stroke-linejoin="miter">F</text>
<text x="1356.0" y="2093.1" font-size="40" font-weight="bold" fill="#8e9595" stroke="#8e9595" stroke-width="2.2">O</text>
</svg></body></html>
